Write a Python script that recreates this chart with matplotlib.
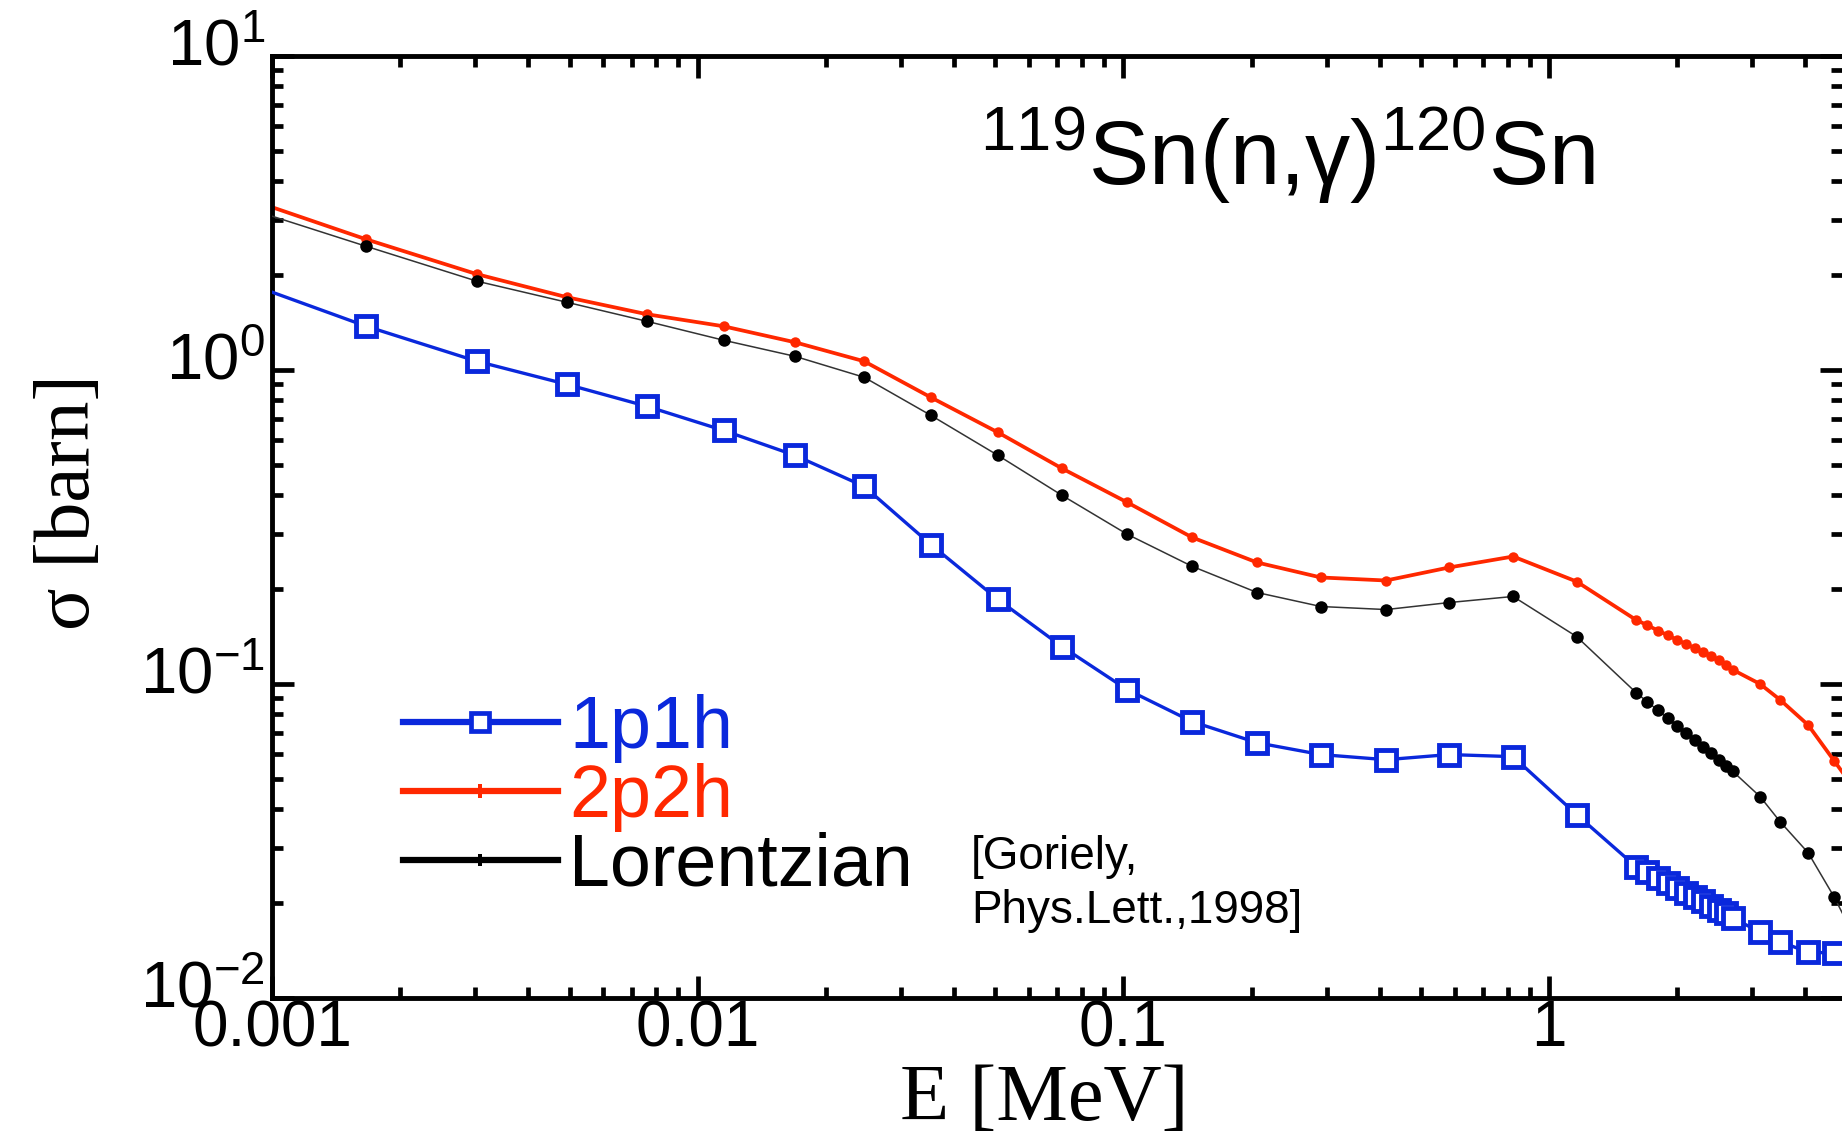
import matplotlib
matplotlib.use("Agg")
import matplotlib.pyplot as plt
from matplotlib.lines import Line2D
from matplotlib.transforms import ScaledTranslation

plt.rcParams["font.family"] = ["Liberation Sans", "DejaVu Sans"]
plt.rcParams["mathtext.fontset"] = "custom"
plt.rcParams["mathtext.rm"] = "Liberation Sans"
plt.rcParams["mathtext.it"] = "Liberation Sans:italic"
plt.rcParams["mathtext.bf"] = "Liberation Sans:bold"

# energies (MeV): coarse grid, dense block near 2 MeV, tail
E_sparse = [0.001, 0.00166, 0.00303, 0.00493, 0.0076, 0.0115, 0.0169, 0.0246,
            0.0353, 0.0507, 0.0717, 0.102, 0.145, 0.206, 0.291, 0.414, 0.582,
            0.823, 1.16]
E_dense = [1.6, 1.7, 1.8, 1.9, 2.0, 2.1, 2.2, 2.3, 2.4, 2.5, 2.6, 2.7]
E_tail = [3.13, 3.49, 4.06, 4.67, 5.3]

# cross sections (barn)
sig_1p1h = [1.77, 1.38, 1.066, 0.900, 0.766, 0.642, 0.535, 0.426, 0.278, 0.186,
            0.1316, 0.0960, 0.0759, 0.0650, 0.0596, 0.0574, 0.0596, 0.0587, 0.0384,
            0.0262, 0.0251, 0.0241, 0.0232, 0.0224, 0.0216, 0.0209, 0.0203,
            0.0197, 0.0191, 0.0186, 0.0180,
            0.0162, 0.0151, 0.0140, 0.0139, 0.0118]
sig_2p2h = [3.30, 2.61, 2.019, 1.705, 1.505, 1.378, 1.226, 1.066, 0.818, 0.633,
            0.486, 0.379, 0.293, 0.2438, 0.2184, 0.2136, 0.2350, 0.2547, 0.2120,
            0.160, 0.154, 0.148, 0.143, 0.138, 0.134, 0.130, 0.126, 0.123,
            0.119, 0.115, 0.111,
            0.100, 0.089, 0.074, 0.057, 0.045]
sig_lor = [3.09, 2.48, 1.918, 1.643, 1.429, 1.244, 1.106, 0.948, 0.717, 0.535,
           0.399, 0.300, 0.237, 0.1956, 0.1765, 0.1726, 0.1817, 0.1900, 0.1416,
           0.0939, 0.0878, 0.0825, 0.0777, 0.0734, 0.0696, 0.0661, 0.0630,
           0.0601, 0.0574, 0.0550, 0.0527,
           0.0438, 0.0364, 0.0290, 0.0210, 0.0150]

labels = ["1p1h", "2p2h", "Lorentzian"]
xtick_vals = [0.001, 0.01, 0.1, 1]
xtick_labels = ["0.001", "0.01", "0.1", "1"]
ytick_vals = [0.01, 0.1, 1, 10]
ytick_labels = [r"$10^{-2}$", r"$10^{-1}$", r"$10^{0}$", r"$10^{1}$"]

BLUE = "#0A28DC"
RED = "#FF2800"

E = E_sparse + E_dense + E_tail

fig = plt.figure(figsize=(18.42, 11.31), dpi=100)
ax = fig.add_axes([0.14767, 0.1176, 0.85233, 0.83289])

ax.plot(E, sig_2p2h, color=RED, lw=2.7, marker="o", ms=7.5, mew=0,
        markevery=slice(1, None), zorder=2)
ax.plot(E, sig_lor, color="#333333", lw=1.1, marker="o", ms=9, mew=0,
        mfc="black", markevery=slice(1, None), zorder=3)
ax.plot(E, sig_1p1h, color=BLUE, lw=2.4, marker="s", ms=14.5, mfc="white",
        mec=BLUE, mew=3.5, markevery=slice(1, None), zorder=4)

ax.set_xscale("log")
ax.set_yscale("log")
ax.set_xlim(0.001, 4.875)
ax.set_ylim(0.01, 10)

ax.set_xticks(xtick_vals)
ax.set_xticklabels(xtick_labels, fontsize=46)
ax.set_yticks(ytick_vals)
ax.set_yticklabels(ytick_labels, fontsize=47)
ax.tick_params(which="both", direction="in", top=True, right=True, width=3.4)
ax.tick_params(which="major", length=16)
ax.tick_params(which="minor", length=8)
ax.tick_params(axis="x", which="major", pad=1)
ax.tick_params(axis="y", which="major", pad=5)
for lab in ax.get_yticklabels():
    lab.set_transform(lab.get_transform() + ScaledTranslation(0, 10 / 72, fig.dpi_scale_trans))

for side in ["left", "top", "bottom"]:
    ax.spines[side].set_linewidth(3.5)
ax.spines["right"].set_visible(False)

ax.set_xlabel("E [MeV]", family="Liberation Serif", fontsize=58)
ax.set_ylabel("\u03c3 [barn]", family="Liberation Serif", fontsize=57)
ax.xaxis.set_label_coords(0.4917, -0.070)
ax.yaxis.set_label_coords(-0.106, 0.5265)

ax.text(0.451, 0.863, "$^{119}$Sn(n,\u03b3)$^{120}$Sn",
        transform=ax.transAxes, ha="left", va="baseline", fontsize=65)

handles = [
    Line2D([], [], color=BLUE, lw=4.5, marker="s", ms=13, mfc="white", mec=BLUE, mew=3.4),
    Line2D([], [], color=RED, lw=4.5, marker="P", ms=10, mew=0),
    Line2D([], [], color="black", lw=4.5, marker="P", ms=9, mew=0),
]
ax.legend(handles, labels, loc="upper left", bbox_to_anchor=(0.0834, 0.3232),
          frameon=False, fontsize=53, handlelength=2.1, handletextpad=0.16,
          labelspacing=0.0, borderpad=0, borderaxespad=0, numpoints=1,
          labelcolor="linecolor")

ax.text(0.4452, 0.0796, "[Goriely,\nPhys.Lett.,1998]", transform=ax.transAxes,
        ha="left", va="baseline", fontsize=33, linespacing=1.3)

fig.savefig("out.png", dpi=100)
